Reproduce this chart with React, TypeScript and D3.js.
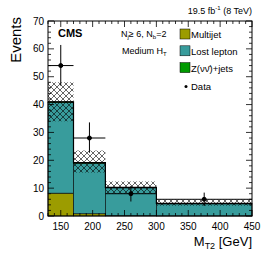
import React from "react";
import * as d3 from "d3";

const binEdges = [130, 170, 220, 300, 450];
const multijet = [8.2, 0.8, 0.1, 0.05];
const lostLepton = [32.5, 18.1, 10.0, 4.3];
const zinv = [0.3, 0.3, 0.2, 0.15];
const bandLow = [34, 15.6, 8.0, 3.7];
const bandHigh = [48, 23.5, 12.4, 5.9];
const dataX = [150, 195, 260, 375];
const dataY = [54, 28, 8, 6];
const dataErrLo = [7.2, 5.3, 2.8, 2.4];
const dataErrHi = [7.4, 5.6, 2.8, 2.4];
const xTicks = [150, 200, 250, 300, 350, 400, 450];
const yTicks = [0, 10, 20, 30, 40, 50, 60, 70];
const legendItems = ["Multijet", "Lost lepton", "Z(νν̄)+jets"];

const W = 266;
const H = 255;
const m = { left: 48, right: 14, top: 21, bottom: 39 };
const colors = ["#9c9c00", "#389c9c", "#009a00"];

export default function App() {
  const x = d3.scaleLinear().domain([130, 450]).range([m.left, W - m.right]);
  const y = d3.scaleLinear().domain([0, 70]).range([H - m.bottom, m.top]);
  const font = "'Liberation Sans', Arial, sans-serif";

  const bins = binEdges.slice(0, -1).map((lo, i) => {
    const hi = binEdges[i + 1];
    const s1 = multijet[i];
    const s2 = s1 + lostLepton[i];
    const s3 = s2 + zinv[i];
    return { lo, hi, layers: [[0, s1], [s1, s2], [s2, s3]], total: s3 };
  });

  // outline of the stacked total
  const stepPts: [number, number][] = bins.map((b) => [x(b.lo), y(b.total)]);
  stepPts.push([x(450), y(bins[bins.length - 1].total)]);
  const stepPath = d3.line().curve(d3.curveStepAfter)(stepPts);

  const xMinor = d3.range(130, 451, 10);
  const yMinor = d3.range(0, 71, 2);
  const x0 = m.left;
  const x1 = W - m.right;
  const y0 = H - m.bottom;
  const y1 = m.top;

  return (
    <svg width={W} height={H} style={{ position: "absolute", left: 0, top: 0, background: "#fff" }} fontFamily={font}>
      <defs>
        <pattern id="hatch" width="6" height="6" patternUnits="userSpaceOnUse">
          <path d="M0,0 L6,6 M6,0 L0,6" stroke="#000" strokeWidth="0.6" />
        </pattern>
      </defs>
      {bins.map((b, i) =>
        b.layers.map(([a, c], k) => (
          <rect
            key={`${i}-${k}`}
            x={x(b.lo)}
            width={x(b.hi) - x(b.lo)}
            y={y(c)}
            height={y(a) - y(c)}
            fill={colors[k]}
            stroke="#000"
            strokeWidth={0.6}
          />
        ))
      )}
      {bins.map((b, i) => (
        <rect
          key={`band-${i}`}
          x={x(b.lo)}
          width={x(b.hi) - x(b.lo)}
          y={y(bandHigh[i])}
          height={y(bandLow[i]) - y(bandHigh[i])}
          fill="url(#hatch)"
        />
      ))}
      <path d={stepPath ?? ""} fill="none" stroke="#000" strokeWidth={1.2} />
      {dataX.map((dx, i) => (
        <g key={`d-${i}`} stroke="#000" strokeWidth={1}>
          <line x1={x(binEdges[i])} x2={x(binEdges[i + 1])} y1={y(dataY[i])} y2={y(dataY[i])} />
          <line x1={x(dx)} x2={x(dx)} y1={y(dataY[i] - dataErrLo[i])} y2={y(dataY[i] + dataErrHi[i])} />
          <circle cx={x(dx)} cy={y(dataY[i])} r={2} fill="#000" />
        </g>
      ))}
      <rect x={x0} y={y1} width={x1 - x0} height={y0 - y1} fill="none" stroke="#000" strokeWidth={1} />
      {xMinor.map((v) => {
        const l = v % 50 === 0 ? 6 : 3;
        return (
          <g key={`xt-${v}`} stroke="#000" strokeWidth={0.8}>
            <line x1={x(v)} x2={x(v)} y1={y0} y2={y0 - l} />
            <line x1={x(v)} x2={x(v)} y1={y1} y2={y1 + l} />
          </g>
        );
      })}
      {yMinor.map((v) => {
        const l = v % 10 === 0 ? 6 : 3;
        return (
          <g key={`yt-${v}`} stroke="#000" strokeWidth={0.8}>
            <line x1={x0} x2={x0 + l} y1={y(v)} y2={y(v)} />
            <line x1={x1} x2={x1 - l} y1={y(v)} y2={y(v)} />
          </g>
        );
      })}
      {xTicks.map((v) => (
        <text key={`xl-${v}`} x={x(v)} y={y0 + 14} fontSize={10} textAnchor="middle">
          {v}
        </text>
      ))}
      {yTicks.map((v) => (
        <text key={`yl-${v}`} x={x0 - 4} y={y(v) + 3.5} fontSize={10} textAnchor="end">
          {v}
        </text>
      ))}
      <text x={x1} y={H - 9} fontSize={13} textAnchor="end">
        M<tspan fontSize={9} dy={3}>T2</tspan>
        <tspan dy={-3}> [GeV]</tspan>
      </text>
      <text transform={`translate(21,17) rotate(-90)`} fontSize={15} textAnchor="end">
        Events
      </text>
      <text x={x1} y={14} fontSize={9} textAnchor="end">
        19.5 fb<tspan fontSize={6} dy={-4}>-1</tspan>
        <tspan dy={4}> (8 TeV)</tspan>
      </text>
      <text x={58} y={37} fontSize={11} fontWeight="bold">
        CMS
      </text>
      <text x={121} y={37} fontSize={9}>
        N<tspan fontSize={6} dy={2}>j</tspan>
        <tspan dy={-2}>≥ 6, N</tspan>
        <tspan fontSize={6} dy={2}>b</tspan>
        <tspan dy={-2}>=2</tspan>
      </text>
      <text x={122} y={54} fontSize={9}>
        Medium H<tspan fontSize={6} dy={2}>T</tspan>
      </text>
      {legendItems.map((name, i) => (
        <g key={name}>
          <rect x={180} y={29 + i * 16.8} width={10} height={10} fill={colors[i]} stroke="#000" strokeWidth={0.5} />
          <text x={191} y={38 + i * 16.8} fontSize={9.5}>
            {name}
          </text>
        </g>
      ))}
      <circle cx={186} cy={86.5} r={1.5} fill="#000" />
      <text x={191} y={90} fontSize={9.5}>
        Data
      </text>
    </svg>
  );
}
